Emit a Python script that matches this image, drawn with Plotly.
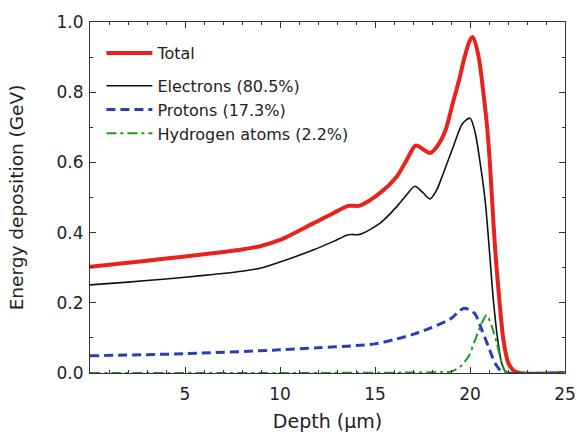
import plotly.graph_objects as go

# Total
x_total = [0, 2, 4, 6, 8, 9, 10, 11.77, 12.82, 13.6, 14.2, 15.27, 16.15, 16.7, 17.15,
           17.9, 18.3, 18.7, 19.1, 19.45, 19.74, 20.0, 20.15, 20.44, 20.7, 20.88, 21.02,
           21.15, 21.32, 21.55, 21.76, 22.02, 22.28, 22.6, 25]
y_total = [0.303, 0.314, 0.326, 0.338, 0.352, 0.362, 0.379, 0.427, 0.456, 0.476, 0.477,
           0.513, 0.56, 0.61, 0.648, 0.627, 0.648, 0.69, 0.77, 0.84, 0.905, 0.948, 0.957,
           0.905, 0.80, 0.712, 0.62, 0.505, 0.355, 0.205, 0.094, 0.028, 0.008, 0.0, 0.0]

# Electrons
x_elec = [0, 2, 4, 6, 8, 9, 10, 11.77, 12.82, 13.6, 14.2, 15.27, 16.15, 16.7, 17.1,
          17.5, 17.9, 18.25, 18.6, 19.13, 19.6, 20.0, 20.27, 20.53, 20.8, 21.02, 21.23,
          21.46, 21.67, 21.9, 22.1, 25]
y_elec = [0.251, 0.259, 0.268, 0.278, 0.290, 0.299, 0.316, 0.351, 0.375, 0.394, 0.395,
          0.427, 0.474, 0.51, 0.532, 0.515, 0.496, 0.522, 0.57, 0.646, 0.71, 0.726, 0.685,
          0.60, 0.49, 0.35, 0.208, 0.094, 0.028, 0.003, 0.0, 0.0]

# Protons
x_prot = [0, 5, 10, 12, 14, 15, 16, 17, 18, 19, 19.35, 19.65, 19.95, 20.27, 20.62,
          20.97, 21.32, 21.67, 22.0, 25]
y_prot = [0.049, 0.055, 0.066, 0.072, 0.078, 0.083, 0.095, 0.11, 0.13, 0.155, 0.172,
          0.184, 0.181, 0.168, 0.123, 0.075, 0.028, 0.004, 0.0, 0.0]

# Hydrogen atoms
x_hyd = [0, 10, 18, 19, 19.48, 19.92, 20.27, 20.62, 20.88, 21.15, 21.41, 21.67, 21.85,
         22.1, 25]
y_hyd = [0.0, 0.0, 0.002, 0.004, 0.018, 0.047, 0.094, 0.142, 0.165, 0.132, 0.085, 0.028,
         0.005, 0.0, 0.0]

names = ["Total", "Electrons (80.5%)", "Protons (17.3%)", "Hydrogen atoms (2.2%)"]

font = "DejaVu Sans, sans-serif"
txt = "#222222"
sm = 0.8

fig = go.Figure()
fig.add_trace(go.Scatter(x=x_total, y=y_total, name=names[0], mode="lines",
                         line=dict(color="#e8231c", width=4, shape="spline", smoothing=sm),
                         legendgroup="a"))
fig.add_trace(go.Scatter(x=x_elec, y=y_elec, name=names[1], mode="lines",
                         line=dict(color="#111111", width=1.6, shape="spline", smoothing=sm),
                         legendgroup="b"))
fig.add_trace(go.Scatter(x=x_prot, y=y_prot, name=names[2], mode="lines",
                         line=dict(color="#2a3fb5", width=3, dash="9px,5px",
                                   shape="spline", smoothing=sm),
                         legendgroup="b"))
fig.add_trace(go.Scatter(x=x_hyd, y=y_hyd, name=names[3], mode="lines",
                         line=dict(color="#1a9a1a", width=2, dash="10px,4px,3px,4px",
                                   shape="spline", smoothing=sm),
                         legendgroup="b"))

axis_common = dict(showline=True, linecolor="#333333", linewidth=1, mirror="ticks",
                   ticks="inside", ticklen=6, tickcolor="#333333", showgrid=False,
                   zeroline=False, automargin=False,
                   tickfont=dict(family=font, size=17, color=txt))

fig.update_xaxes(range=[0, 25], tickvals=[5, 10, 15, 20, 25],
                 minor=dict(dtick=1, ticks="inside", ticklen=3, tickcolor="#333333"),
                 ticklabelstandoff=6,
                 title=dict(text="Depth (\u03bcm)", font=dict(family=font, size=19, color=txt),
                            standoff=14),
                 **axis_common)
fig.update_yaxes(range=[0, 1.0], tickvals=[0, 0.2, 0.4, 0.6, 0.8, 1.0],
                 ticktext=["0.0", "0.2", "0.4", "0.6", "0.8", "1.0"],
                 minor=dict(dtick=0.1, ticks="inside", ticklen=3, tickcolor="#333333"),
                 ticklabelstandoff=2,
                 title=dict(text="Energy deposition (GeV)",
                            font=dict(family=font, size=18.5, color=txt), standoff=28),
                 **axis_common)

fig.update_layout(
    width=577, height=432,
    margin=dict(l=90, r=12, t=22, b=59),
    paper_bgcolor="white", plot_bgcolor="white",
    showlegend=True,
    legend=dict(x=0.024, y=0.96, xanchor="left", yanchor="top",
                bgcolor="rgba(0,0,0,0)", traceorder="grouped", tracegroupgap=9,
                font=dict(family=font, size=16, color=txt),
                itemwidth=46),
)

fig.write_html("out.html")
